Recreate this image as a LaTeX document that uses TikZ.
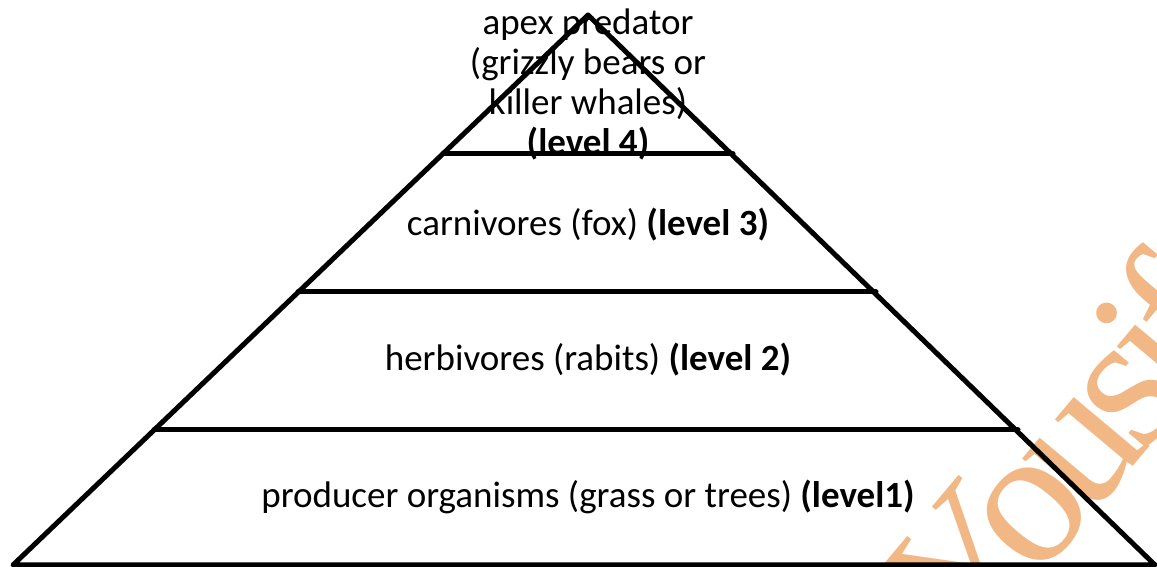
\documentclass[tikz,border=0pt]{standalone}
\usepackage{fontspec}
\setmainfont{Carlito}
\newfontfamily\wmfont[LetterSpace=-8]{Liberation Serif}
\definecolor{wmorange}{RGB}{241,183,132}
\tikzset{
  edge/.style={line width=5pt, line cap=round, line join=round},
  lvl/.style={inner sep=0pt, font=\fontsize{37}{40}\selectfont, align=center},
  wm/.style={inner sep=0pt, text=wmorange, font=\wmfont\fontsize{195}{195}\selectfont, rotate=50, anchor=base west}
}
\begin{document}
\begin{tikzpicture}[x=1pt,y=1pt]
\useasboundingbox (0,0) rectangle (1157,567);
\begin{scope}
\clip (0,0) rectangle (1157,567);
\node[wm] (wmark) at (969,-95) {Yousif};
\end{scope}
\coordinate (top) at (588,552);
\coordinate (bl) at (13,2);
\coordinate (br) at (1155,2);
\coordinate (l1) at (154,137);
\coordinate (r1) at (1018,137);
\coordinate (l2) at (298,275);
\coordinate (r2) at (876,275);
\coordinate (l3) at (443,413);
\coordinate (r3) at (733,413);
\draw[edge] (bl) -- (top) -- (br) -- cycle;
\draw[edge] (l1) -- (r1);
\draw[edge] (l2) -- (r2);
\draw[edge] (l3) -- (r3);
\node[lvl, anchor=north] (apex) at (588,558.6) {apex predator\\(grizzly bears or\\killer whales)\\\textbf{(level 4)}};
\node[lvl] (carn) at (588,342) {carnivores (fox) \textbf{(level 3)}};
\node[lvl] (herb) at (588,207) {herbivores (rabits) \textbf{(level 2)}};
\node[lvl] (prod) at (588,70) {producer organisms (grass or trees) \textbf{(level1)}};
\end{tikzpicture}
\end{document}
